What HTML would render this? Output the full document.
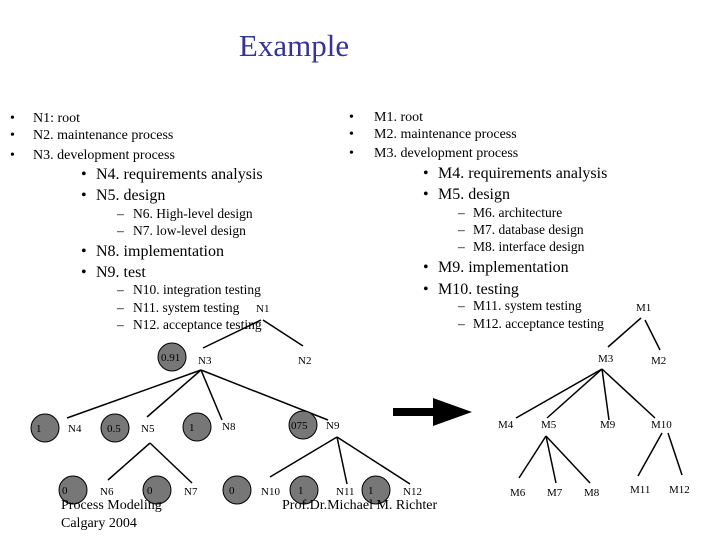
<!DOCTYPE html>
<html><head><meta charset="utf-8"><style>
html,body{margin:0;padding:0;background:#fff}
svg{display:block;font-family:"Liberation Serif",serif}
</style></head><body>
<svg width="720" height="540" viewBox="0 0 720 540" xmlns="http://www.w3.org/2000/svg">
<text x="294" y="56" font-size="31" fill="#333399" text-anchor="middle">Example</text>
<g font-size="14" fill="#000">
<text x="10" y="122">•</text><text x="33" y="122">N1: root</text>
<text x="10" y="139">•</text><text x="33" y="139">N2. maintenance process</text>
<text x="10" y="159">•</text><text x="33" y="159">N3. development process</text>
<text x="349" y="121">•</text><text x="374" y="121">M1. root</text>
<text x="349" y="138">•</text><text x="374" y="138">M2. maintenance process</text>
<text x="349" y="157">•</text><text x="374" y="157">M3. development process</text>
</g>
<g font-size="16">
<text x="81" y="179">•</text><text x="96" y="179">N4. requirements analysis</text>
<text x="81" y="200">•</text><text x="96" y="200">N5. design</text>
<text x="81" y="256">•</text><text x="96" y="256">N8. implementation</text>
<text x="81" y="277">•</text><text x="96" y="277">N9. test</text>
<text x="423" y="178">•</text><text x="438" y="178">M4. requirements analysis</text>
<text x="423" y="199">•</text><text x="438" y="199">M5. design</text>
<text x="423" y="272">•</text><text x="438" y="272">M9. implementation</text>
<text x="423" y="294">•</text><text x="438" y="294">M10. testing</text>
</g>
<g font-size="13.5">
<text x="117" y="218">–</text><text x="133" y="218">N6. High-level design</text>
<text x="117" y="235">–</text><text x="133" y="235">N7. low-level design</text>
<text x="117" y="294">–</text><text x="133" y="294">N10. integration testing</text>
<text x="117" y="312">–</text><text x="133" y="312">N11. system testing</text>
<text x="117" y="329">–</text><text x="133" y="329">N12. acceptance testing</text>
<text x="458" y="217">–</text><text x="473" y="217">M6. architecture</text>
<text x="458" y="234">–</text><text x="473" y="234">M7. database design</text>
<text x="458" y="251">–</text><text x="473" y="251">M8. interface design</text>
<text x="458" y="310">–</text><text x="473" y="310">M11. system testing</text>
<text x="458" y="328">–</text><text x="473" y="328">M12. acceptance testing</text>
</g>
<g stroke="#000" stroke-width="1.5" fill="none">
<line x1="261" y1="320" x2="203" y2="348"/><line x1="263" y1="320" x2="303" y2="346"/>
<line x1="201" y1="370" x2="67" y2="418"/><line x1="201" y1="370" x2="147" y2="417"/>
<line x1="201" y1="370" x2="222" y2="420"/><line x1="201" y1="370" x2="328" y2="420"/>
<line x1="150" y1="443" x2="108" y2="480"/><line x1="150" y1="443" x2="192" y2="483"/>
<line x1="337" y1="437" x2="270" y2="477"/><line x1="337" y1="437" x2="347" y2="484"/><line x1="337" y1="437" x2="410" y2="484"/>
<line x1="641" y1="318" x2="608" y2="347"/><line x1="645" y1="320" x2="660" y2="350"/>
<line x1="602" y1="369" x2="516" y2="418"/><line x1="602" y1="369" x2="547" y2="418"/>
<line x1="602" y1="369" x2="609" y2="420"/><line x1="602" y1="369" x2="655" y2="418"/>
<line x1="546" y1="436" x2="519" y2="478"/><line x1="546" y1="436" x2="556" y2="483"/><line x1="546" y1="436" x2="590" y2="483"/>
<line x1="662" y1="433" x2="638" y2="476"/><line x1="668" y1="433" x2="682" y2="475"/>
</g>
<rect x="393" y="408" width="42" height="8" fill="#000"/>
<polygon points="433,398 472,412 433,426" fill="#000"/>
<g fill="#777" stroke="#000" stroke-width="1">
<circle cx="172" cy="357" r="14"/>
<circle cx="45" cy="428" r="14"/><circle cx="115" cy="428" r="14"/><circle cx="197" cy="427" r="14"/><circle cx="303" cy="425" r="14"/>
<circle cx="73" cy="490" r="14"/><circle cx="157" cy="490" r="14"/><circle cx="237" cy="490" r="14"/><circle cx="304" cy="490" r="14"/><circle cx="376" cy="490" r="14"/>
</g>
<g font-size="11" fill="#000">
<text x="161" y="361">0.91</text>
<text x="36" y="432">1</text><text x="107" y="432">0.5</text><text x="189" y="431">1</text><text x="291" y="429">075</text>
<text x="62" y="494">0</text><text x="147" y="494">0</text><text x="229" y="494">0</text><text x="298" y="494">1</text><text x="368" y="494">1</text>
<text x="256" y="312">N1</text><text x="198" y="364">N3</text><text x="298" y="364">N2</text>
<text x="68" y="432">N4</text><text x="141" y="432">N5</text><text x="222" y="430">N8</text><text x="326" y="429">N9</text>
<text x="100" y="495">N6</text><text x="184" y="495">N7</text><text x="261" y="495">N10</text><text x="336" y="495">N11</text><text x="403" y="495">N12</text>
<text x="636" y="311">M1</text><text x="598" y="362">M3</text><text x="651" y="364">M2</text>
<text x="498" y="428">M4</text><text x="541" y="428">M5</text><text x="600" y="428">M9</text><text x="651" y="428">M10</text>
<text x="510" y="496">M6</text><text x="547" y="496">M7</text><text x="584" y="496">M8</text><text x="630" y="493">M11</text><text x="669" y="493">M12</text>
</g>
<g font-size="14">
<text x="61" y="509">Process Modeling</text>
<text x="61" y="527">Calgary 2004</text>
<text x="282" y="509">Prof.Dr.Michael M. Richter</text>
</g>
</svg>
</body></html>
